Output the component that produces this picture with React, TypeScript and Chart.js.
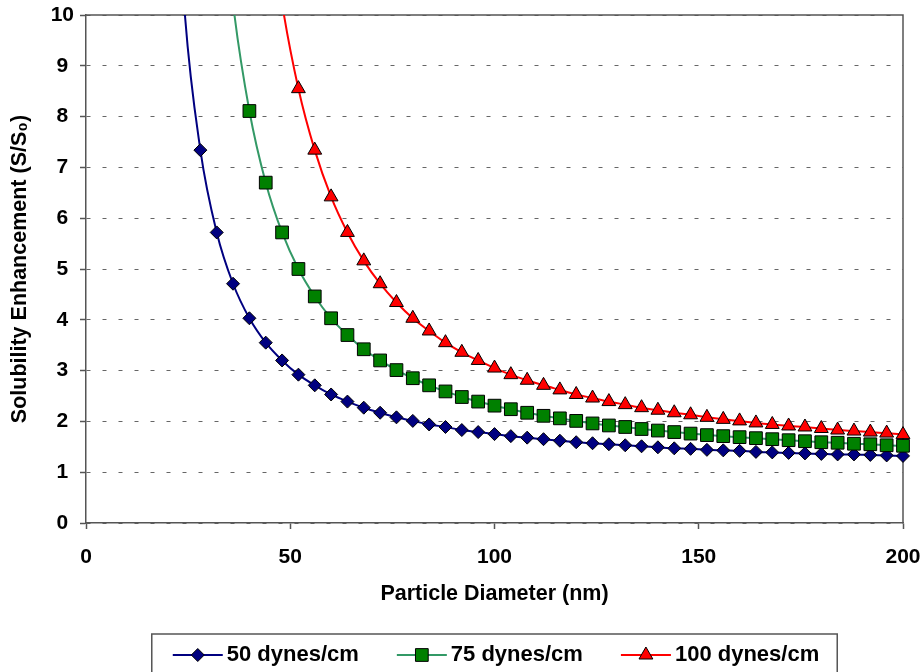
import React, { useEffect, useRef } from "react";
import { Chart, registerables } from "chart.js";

Chart.register(...registerables);

// ---------------- data ----------------
const seriesLabels = ["50 dynes/cm", "75 dynes/cm", "100 dynes/cm"];

const diameters50 = [20, 24, 28, 32, 36, 40, 44, 48, 52, 56, 60, 64, 68, 72, 76, 80, 84, 88, 92, 96, 100,
  104, 108, 112, 116, 120, 124, 128, 132, 136, 140, 144, 148, 152, 156, 160, 164, 168, 172, 176, 180,
  184, 188, 192, 196, 200];
const values50 = [16.28, 10.23, 7.34, 5.72, 4.71, 4.03, 3.55, 3.2, 2.92, 2.71, 2.53, 2.39, 2.27, 2.17, 2.08,
  2.01, 1.94, 1.89, 1.83, 1.79, 1.75, 1.71, 1.68, 1.65, 1.62, 1.59, 1.57, 1.55, 1.53, 1.51, 1.49, 1.47,
  1.46, 1.44, 1.43, 1.42, 1.4, 1.39, 1.38, 1.37, 1.36, 1.35, 1.35, 1.34, 1.33, 1.32];

const diameters75 = [32, 36, 40, 44, 48, 52, 56, 60, 64, 68, 72, 76, 80, 84, 88, 92, 96, 100,
  104, 108, 112, 116, 120, 124, 128, 132, 136, 140, 144, 148, 152, 156, 160, 164, 168, 172, 176, 180,
  184, 188, 192, 196, 200];
const values75 = [13.68, 10.23, 8.11, 6.7, 5.72, 5.0, 4.46, 4.03, 3.7, 3.42, 3.2, 3.01, 2.85, 2.71, 2.59,
  2.48, 2.39, 2.31, 2.24, 2.17, 2.11, 2.06, 2.01, 1.96, 1.92, 1.89, 1.85, 1.82, 1.79, 1.76, 1.73, 1.71,
  1.69, 1.67, 1.65, 1.63, 1.61, 1.59, 1.58, 1.56, 1.55, 1.53, 1.52];

const diameters100 = [44, 48, 52, 56, 60, 64, 68, 72, 76, 80, 84, 88, 92, 96, 100,
  104, 108, 112, 116, 120, 124, 128, 132, 136, 140, 144, 148, 152, 156, 160, 164, 168, 172, 176, 180,
  184, 188, 192, 196, 200];
const values100 = [12.63, 10.23, 8.55, 7.34, 6.42, 5.72, 5.16, 4.71, 4.34, 4.03, 3.78, 3.55, 3.36, 3.2,
  3.05, 2.92, 2.81, 2.71, 2.62, 2.53, 2.46, 2.39, 2.33, 2.27, 2.22, 2.17, 2.13, 2.08, 2.04, 2.01, 1.97,
  1.94, 1.91, 1.89, 1.86, 1.83, 1.81, 1.79, 1.77, 1.74];

const xMin = 0;
const xMax = 200;
const xStep = 50;
const yMin = 0;
const yMax = 10;
const yStep = 1;

const xTitle = "Particle Diameter (nm)";
const yTitle = "Solubility Enhancement (S/S\u2080)";

// ---------------- styles ----------------
const FONT_FAMILY = '"Liberation Sans", Arial, Helvetica, sans-serif';
const AXIS_COLOR = "#555555";

const seriesStyles = [
  { line: "#000080", fill: "#000080", shape: "rectRot", radius: 6.5 },
  { line: "#339966", fill: "#008000", shape: "rect", radius: 9 },
  { line: "#FF0000", fill: "#FF0000", shape: "triangle", radius: 8 },
];

function toPoints(xs: number[], ys: number[]) {
  return xs.map((x, i) => ({ x, y: ys[i] }));
}

function drawMarker(ctx: CanvasRenderingContext2D, shape: string, x: number, y: number, r: number) {
  ctx.beginPath();
  if (shape === "rectRot") {
    ctx.moveTo(x - r, y);
    ctx.lineTo(x, y - r);
    ctx.lineTo(x + r, y);
    ctx.lineTo(x, y + r);
    ctx.closePath();
  } else if (shape === "rect") {
    const s = Math.SQRT1_2 * r;
    ctx.rect(x - s, y - s, 2 * s, 2 * s);
  } else {
    let a = 0;
    ctx.moveTo(x + Math.sin(a) * r, y - Math.cos(a) * r);
    a += (2 * Math.PI) / 3;
    ctx.lineTo(x + Math.sin(a) * r, y - Math.cos(a) * r);
    a += (2 * Math.PI) / 3;
    ctx.lineTo(x + Math.sin(a) * r, y - Math.cos(a) * r);
    ctx.closePath();
  }
  ctx.fill();
  ctx.stroke();
}

const frameAndLegendPlugin = {
  id: "frameAndLegend",
  beforeDatasetsDraw(chart: any) {
    const { ctx, chartArea } = chart;
    ctx.save();
    ctx.strokeStyle = AXIS_COLOR;
    ctx.lineWidth = 1.5;
    ctx.beginPath();
    ctx.moveTo(chartArea.left, chartArea.top);
    ctx.lineTo(chartArea.right, chartArea.top);
    ctx.lineTo(chartArea.right, chartArea.bottom);
    ctx.stroke();
    ctx.restore();
  },
  afterDraw(chart: any) {
    const { ctx, chartArea } = chart;
    ctx.save();
    ctx.font = `bold 22px ${FONT_FAMILY}`;
    const lineLen = 50;
    const textGap = 4;
    const itemGap = 38;
    const padL = 21;
    const padR = 18;
    const widths = seriesLabels.map((l) => lineLen + textGap + ctx.measureText(l).width);
    const total = widths.reduce((a, b) => a + b, 0) + itemGap * (widths.length - 1);
    const boxW = total + padL + padR;
    const cx = (chartArea.left + chartArea.right) / 2;
    const boxLeft = cx - boxW / 2;
    const boxTop = chart.height - 38;
    const cy = chart.height - 17;
    ctx.strokeStyle = AXIS_COLOR;
    ctx.lineWidth = 1.5;
    ctx.strokeRect(boxLeft, boxTop, boxW, 60);
    let x = boxLeft + padL;
    seriesLabels.forEach((label, i) => {
      const st = seriesStyles[i];
      ctx.strokeStyle = st.line;
      ctx.lineWidth = 2;
      ctx.beginPath();
      ctx.moveTo(x, cy);
      ctx.lineTo(x + lineLen, cy);
      ctx.stroke();
      ctx.fillStyle = st.fill;
      ctx.strokeStyle = "#000000";
      ctx.lineWidth = 1;
      drawMarker(ctx, st.shape, x + lineLen / 2, cy, st.radius);
      ctx.fillStyle = "#000000";
      ctx.textAlign = "left";
      ctx.textBaseline = "middle";
      ctx.fillText(label, x + lineLen + textGap, cy);
      x += widths[i] + itemGap;
    });
    ctx.restore();
  },
};

export default function App() {
  const canvasRef = useRef<HTMLCanvasElement | null>(null);

  useEffect(() => {
    document.body.style.margin = "0";
    const canvas = canvasRef.current;
    if (!canvas) return;
    const seriesData = [
      toPoints(diameters50, values50),
      toPoints(diameters75, values75),
      toPoints(diameters100, values100),
    ];
    const datasets = seriesData.map((data, i) => {
      const st = seriesStyles[i];
      return {
        label: seriesLabels[i],
        data,
        borderColor: st.line,
        backgroundColor: st.fill,
        borderWidth: 2,
        pointStyle: st.shape,
        pointBackgroundColor: st.fill,
        pointBorderColor: "#000000",
        pointBorderWidth: 1,
        pointRadius: (c: any) => (c.raw && c.raw.y > yMax ? 0 : st.radius),
        pointHoverRadius: st.radius,
        cubicInterpolationMode: "monotone",
        clip: { left: 12, top: 0, right: 12, bottom: 12 },
        order: 2 - i,
      };
    });

    const tickFont = { family: FONT_FAMILY, size: 21, weight: "bold" as const };
    const titleFont = { family: FONT_FAMILY, size: 21.5, weight: "bold" as const };

    const chart = new Chart(canvas, {
      type: "line",
      data: { datasets: datasets as any },
      options: {
        animation: false,
        responsive: true,
        maintainAspectRatio: false,
        events: [],
        layout: { padding: { top: 15, right: 21, bottom: 65, left: 0 } },
        plugins: {
          legend: { display: false },
          tooltip: { enabled: false },
        },
        scales: {
          x: {
            type: "linear",
            min: xMin,
            max: xMax,
            ticks: { stepSize: xStep, color: "#000", font: tickFont, padding: 16, maxRotation: 0 },
            grid: {
              drawOnChartArea: false,
              drawTicks: true,
              tickLength: 6,
              tickColor: AXIS_COLOR,
              tickWidth: 1.5,
            },
            border: { display: true, color: AXIS_COLOR, width: 1.5 },
            title: {
              display: true,
              text: xTitle,
              color: "#000",
              font: titleFont,
              padding: { top: 0, bottom: 0 },
            },
            afterFit: (scale: any) => {
              scale.height = 84;
              scale.paddingLeft = 0;
              scale.paddingRight = 0;
            },
          },
          y: {
            type: "linear",
            min: yMin,
            max: yMax,
            ticks: { stepSize: yStep, color: "#000", font: tickFont, padding: 6, crossAlign: "center" },
            grid: {
              drawOnChartArea: true,
              drawTicks: true,
              tickLength: 6,
              color: "#666666",
              lineWidth: 1,
              tickColor: AXIS_COLOR,
              tickWidth: 1.5,
              borderDash: [4, 12],
            } as any,
            border: { display: true, color: AXIS_COLOR, width: 1.5, dash: [4, 12] },
            title: {
              display: true,
              text: yTitle,
              color: "#000",
              font: titleFont,
              padding: { top: 7, bottom: 0 },
            },
            afterFit: (scale: any) => {
              scale.width = 86;
              scale.paddingTop = 0;
              scale.paddingBottom = 0;
            },
          },
        },
      },
      plugins: [frameAndLegendPlugin],
    });
    return () => chart.destroy();
  }, []);

  return (
    <div style={{ position: "fixed", left: 0, top: 0, width: 924, height: 672, background: "#fff" }}>
      <canvas ref={canvasRef} />
    </div>
  );
}
